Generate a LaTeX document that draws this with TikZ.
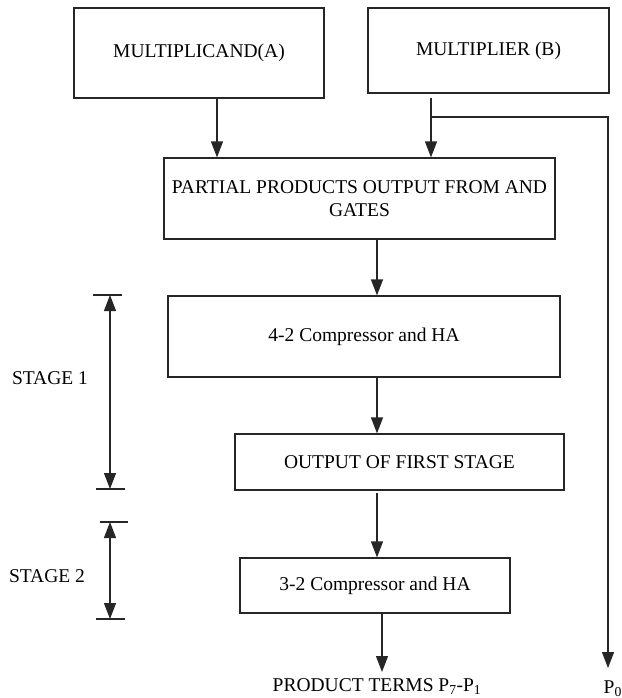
\documentclass[tikz,border=0pt]{standalone}
\usepackage{fontspec}
\setmainfont{Liberation Serif}
\usetikzlibrary{arrows.meta}
\tikzset{
  box/.style={draw=black!85, line width=1.2pt, rectangle, inner sep=0pt, align=center,
    font=\fontsize{19.5}{23}\selectfont},
  lbl/.style={inner sep=0pt, font=\fontsize{19.5}{23}\selectfont},
  ln/.style={draw=black!85, line width=1.2pt},
  arr/.style={ln, -{Triangle[width=12pt,length=16pt]}},
  darr/.style={ln, {Triangle[width=12pt,length=16pt]}-{Triangle[width=12pt,length=16pt]}},
}
\begin{document}
\begin{tikzpicture}[x=1pt,y=-1pt]
\useasboundingbox (0,0) rectangle (621,698);

% boxes
\node[box, minimum width=250pt, minimum height=90pt] (mA) at (199,53) {MULTIPLICAND(A)};
\node[box, minimum width=241pt, minimum height=85pt] (mB) at (488.5,50.5) {MULTIPLIER (B)};
\node[box, minimum width=391pt, minimum height=81pt] (pp) at (359.5,198.5)
  {PARTIAL PRODUCTS OUTPUT FROM AND\\GATES};
\node[box, minimum width=392pt, minimum height=81pt] (c42) at (364,336.5) {4-2 Compressor and HA};
\node[box, minimum width=329pt, minimum height=56pt] (ofs) at (399.5,462) {OUTPUT OF FIRST STAGE};
\node[box, minimum width=270pt, minimum height=55pt] (c32) at (375,585.5) {3-2 Compressor and HA};

% outputs
\node[lbl, anchor=base] (prod) at (377,691) {PRODUCT TERMS P\textsubscript{7}-P\textsubscript{1}};
\node[lbl, anchor=base west] (p0) at (603.5,693) {P\textsubscript{0}};

% stage labels
\node[lbl] (st1) at (50,378) {STAGE 1};
\node[lbl] (st2) at (47,576) {STAGE 2};

% helper coordinates
\coordinate (xa) at (217,0);
\coordinate (bs) at (431,98);
\coordinate (br) at (431,117);
\coordinate (rc) at (608,117);
\coordinate (p0tip) at (608,668);
\coordinate (xm) at (377,0);
\coordinate (c32o) at (382,613);
\coordinate (prodtip) at (382,672);

% connectors
\draw[arr] (mA.south -| xa) -- (pp.north -| xa);
\draw[arr] (bs) -- (pp.north -| bs);
\draw[arr] (br) -- (rc) -- (p0tip);
\draw[arr] (pp.south -| xm) -- (c42.north -| xm);
\draw[arr] (c42.south -| xm) -- (ofs.north -| xm);
\draw[arr] ([yshift=-2pt]ofs.south -| xm) -- (c32.north -| xm);
\draw[arr] (c32o) -- (prodtip);

% stage dimension lines
\coordinate (s1t) at (110,295);
\coordinate (s1b) at (110,489);
\coordinate (s2t) at (112,522);
\coordinate (s2b) at (110,619);
\draw[ln] ([xshift=-17pt]s1t) -- ([xshift=12pt]s1t);
\draw[ln] ([xshift=-14pt]s1b) -- ([xshift=15pt]s1b);
\draw[ln] ([xshift=-12pt]s2t) -- ([xshift=16pt]s2t);
\draw[ln] ([xshift=-14pt]s2b) -- ([xshift=15pt]s2b);
\draw[darr] (s1t) -- (s1b);
\draw[darr] (s2t -| s1t) -- (s2b);
\end{tikzpicture}
\end{document}
